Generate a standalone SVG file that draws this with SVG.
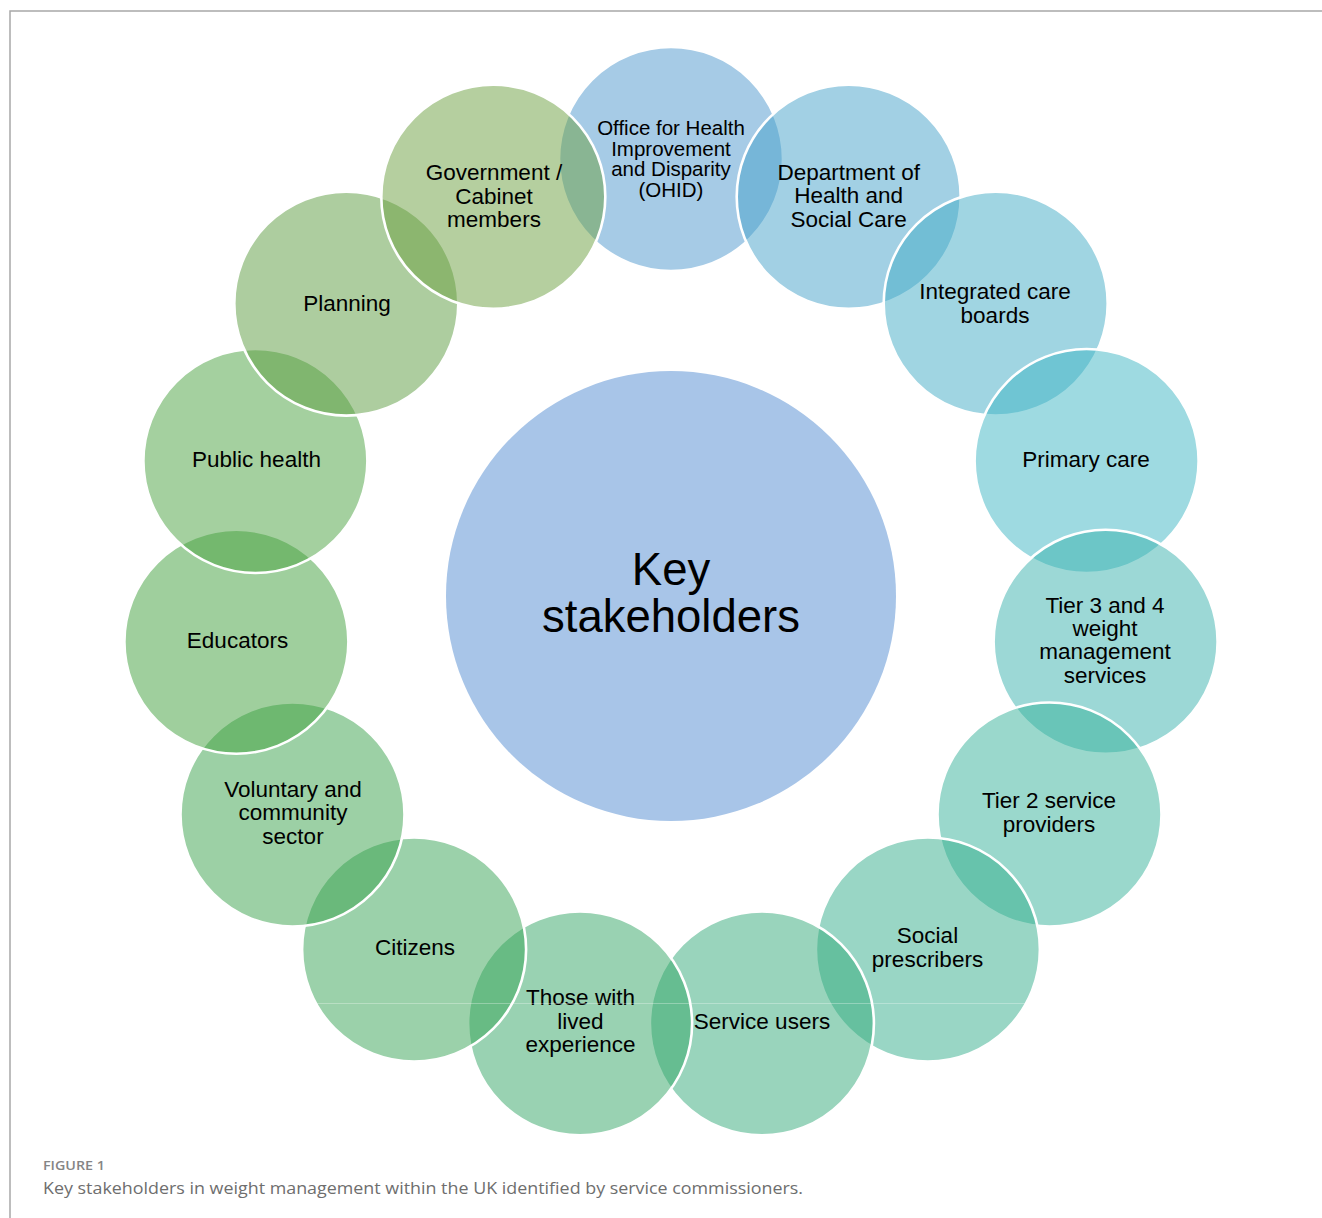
<svg xmlns="http://www.w3.org/2000/svg" width="1322" height="1218" viewBox="0 0 1322 1218">
  <style>
    .bg { fill: #ffffff; }
    .frame { stroke: #a8a8a8; stroke-width: 1.5; fill: none; }
    .hub { fill: #a8c5e8; }
    .ring { fill-opacity: 0.5; stroke: #ffffff; stroke-width: 2.6; }
    .lbl { font-family: "Liberation Sans", Arial, sans-serif; font-size: 22.5px; fill: #000000; text-anchor: middle; }
    .lbl-s { font-size: 20.5px; }
    .hub-lbl { font-family: "Liberation Sans", Arial, sans-serif; font-size: 45.5px; fill: #000000; text-anchor: middle; }
    .fig { font-family: "Open Sans", "Lato", sans-serif; font-size: 12.5px; font-weight: 600; fill: #858585; }
    .cap { font-family: "Open Sans", "Lato", sans-serif; font-size: 16.5px; fill: #6e6e6e; }
    .seam { stroke: #ffffff; stroke-opacity: 0.3; stroke-width: 1; }
  </style>

  <rect class="bg" x="0" y="0" width="1322" height="1218"/>

  <!-- page frame -->
  <path class="frame" d="M10,1218 V11 H1322"/>

  <!-- central hub -->
  <g id="node-key-stakeholders">
    <circle class="hub" cx="671" cy="596" r="225"/>
    <text class="hub-lbl" x="671" y="585">Key</text>
    <text class="hub-lbl" x="671" y="631.7">stakeholders</text>
  </g>

  <!-- outer ring, drawn clockwise from the top; each circle sits above the previous one -->
  <g id="node-ohid">
    <circle class="ring" cx="671" cy="159" r="112" fill="#4d97cd"/>
    <text class="lbl lbl-s" x="671" y="135">Office for Health</text>
    <text class="lbl lbl-s" x="671" y="155.7">Improvement</text>
    <text class="lbl lbl-s" x="671" y="176.4">and Disparity</text>
    <text class="lbl lbl-s" x="671" y="197">(OHID)</text>
  </g>

  <g id="node-dhsc">
    <circle class="ring" cx="848.7" cy="196.8" r="112" fill="#45a1c9"/>
    <text class="lbl" x="848.7" y="180">Department of</text>
    <text class="lbl" x="848.7" y="203.4">Health and</text>
    <text class="lbl" x="848.7" y="226.8">Social Care</text>
  </g>

  <g id="node-icb">
    <circle class="ring" cx="995.7" cy="303.6" r="112" fill="#41abc5"/>
    <text class="lbl" x="995" y="299.3">Integrated care</text>
    <text class="lbl" x="995" y="322.6">boards</text>
  </g>

  <g id="node-primary-care">
    <circle class="ring" cx="1086.6" cy="461" r="112" fill="#3db5c3"/>
    <text class="lbl" x="1086" y="467.3">Primary care</text>
  </g>

  <g id="node-tier-3-4">
    <circle class="ring" cx="1105.6" cy="641.7" r="112" fill="#39b1ad"/>
    <text class="lbl" x="1105" y="612.5">Tier 3 and 4</text>
    <text class="lbl" x="1105" y="635.9">weight</text>
    <text class="lbl" x="1105" y="659.3">management</text>
    <text class="lbl" x="1105" y="682.7">services</text>
  </g>

  <g id="node-tier-2">
    <circle class="ring" cx="1049.5" cy="814.5" r="112" fill="#35b199"/>
    <text class="lbl" x="1049" y="808.3">Tier 2 service</text>
    <text class="lbl" x="1049" y="831.7">providers</text>
  </g>

  <g id="node-social-prescribers">
    <circle class="ring" cx="927.9" cy="949.5" r="112" fill="#33ad8b"/>
    <text class="lbl" x="927.5" y="943.3">Social</text>
    <text class="lbl" x="927.5" y="966.7">prescribers</text>
  </g>

  <g id="node-service-users">
    <circle class="ring" cx="761.9" cy="1023.4" r="112" fill="#33a979"/>
    <text class="lbl" x="762" y="1028.8">Service users</text>
  </g>

  <g id="node-lived-experience">
    <circle class="ring" cx="580.1" cy="1023.4" r="112" fill="#33a565"/>
    <text class="lbl" x="580.5" y="1005.3">Those with</text>
    <text class="lbl" x="580.5" y="1028.7">lived</text>
    <text class="lbl" x="580.5" y="1052.1">experience</text>
  </g>

  <g id="node-citizens">
    <circle class="ring" cx="414.1" cy="949.5" r="112" fill="#37a355"/>
    <text class="lbl" x="415" y="955.3">Citizens</text>
  </g>

  <g id="node-voluntary">
    <circle class="ring" cx="292.5" cy="814.5" r="112" fill="#39a14b"/>
    <text class="lbl" x="293" y="796.7">Voluntary and</text>
    <text class="lbl" x="293" y="820.1">community</text>
    <text class="lbl" x="293" y="843.5">sector</text>
  </g>

  <g id="node-educators">
    <circle class="ring" cx="236.4" cy="641.7" r="112" fill="#3f9f3b"/>
    <text class="lbl" x="237.5" y="648.3">Educators</text>
  </g>

  <g id="node-public-health">
    <circle class="ring" cx="255.4" cy="461" r="112" fill="#49a13f"/>
    <text class="lbl" x="256.5" y="467.3">Public health</text>
  </g>

  <g id="node-planning">
    <circle class="ring" cx="346.3" cy="303.6" r="112" fill="#5b9b3f"/>
    <text class="lbl" x="347" y="310.5">Planning</text>
  </g>

  <g id="node-government">
    <circle class="ring" cx="493.3" cy="196.8" r="112" fill="#6b9f3f"/>
    <text class="lbl" x="494" y="180.2">Government /</text>
    <text class="lbl" x="494" y="203.6">Cabinet</text>
    <text class="lbl" x="494" y="227">members</text>
  </g>

  <!-- faint raster seam across the lower circles -->
  <line class="seam" x1="302" y1="1003.5" x2="1040" y2="1003.5"/>

  <!-- caption -->
  <text class="fig" x="43" y="1170" textLength="62" lengthAdjust="spacingAndGlyphs">FIGURE 1</text>
  <text class="cap" x="43" y="1193.5" textLength="760" lengthAdjust="spacingAndGlyphs">Key stakeholders in weight management within the UK identified by service commissioners.</text>
</svg>
